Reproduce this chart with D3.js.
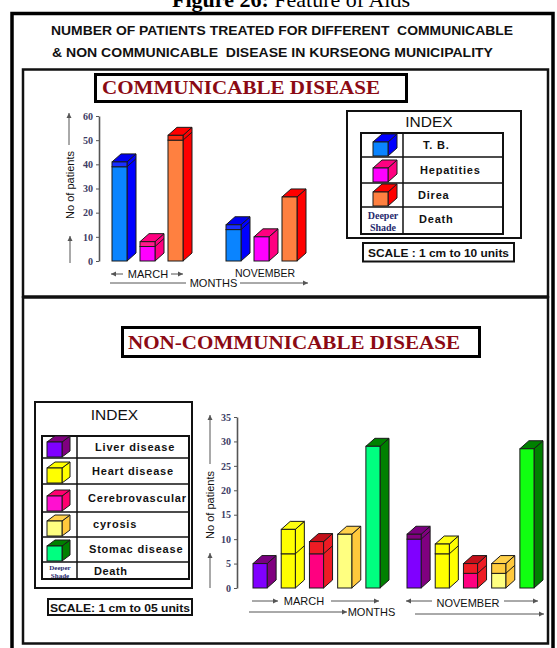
<!DOCTYPE html>
<html><head><meta charset="utf-8">
<script src="https://cdn.jsdelivr.net/npm/d3@7"></script>
<style>html,body{margin:0;padding:0;background:#fff;} svg{display:block;} text{white-space:pre;}</style>
</head><body><svg id="c" width="557" height="648"></svg>
<script>
// ---------- DATA ----------
const months = ["MARCH", "NOVEMBER"];

// Communicable disease (patients treated, and deaths = deeper shade)
const commSeries = ["T. B.", "Hepatities", "Direa"];
const tbPatients = [41, 15];
const tbDeaths = [2, 2];
const hepPatients = [8, 10];
const hepDeaths = [2, 0];
const direaPatients = [52, 26.5];
const direaDeaths = [2, 0];
const commTicks = [0, 10, 20, 30, 40, 50, 60];

// Non-communicable disease
const nonCommSeries = ["Liver disease", "Heart disease", "Cerebrovascular", "cyrosis", "Stomac disease"];
const liverPatients = [5, 11];
const liverDeaths = [0, 1];
const heartPatients = [12, 9];
const heartDeaths = [5, 2];
const cerebroPatients = [9.5, 5];
const cerebroDeaths = [2.5, 2];
const cyrosisPatients = [11, 5];
const cyrosisDeaths = [0, 2];
const stomacPatients = [29, 28.5];
const stomacDeaths = [0, 0];
const nonCommTicks = [0, 5, 10, 15, 20, 25, 30, 35];

const headerLine1 = "NUMBER OF PATIENTS TREATED FOR DIFFERENT  COMMUNICABLE";
const headerLine2 = "& NON COMMUNICABLE  DISEASE IN KURSEONG MUNICIPALITY";

// ---------- STYLES ----------
const commStyles = [
  {front: ["#0a84ff", "#0a84ff"], death: "#1a30ff", side: "#0000ff", top: "#0000f0"},
  {front: ["#ff00ff", "#ff00ff"], death: "#ff1a8c", side: "#ff0080", top: "#ff0080"},
  {front: ["#ff8040", "#ff8040"], death: "#ff2a10", side: "#ff0000", top: "#ff0000"}
];
const nonCommStyles = [
  {front: ["#8000ff", "#8000ff"], death: "#800080", side: "#800080", top: "#7a0080"},
  {front: ["#ffff00", "#ffff00"], death: "#ffff00", side: "#ffff00", top: "#ffff10"},
  {front: ["#ff0080", "#ff0080"], death: "#ee1c24", side: "#ee1c24", top: "#c4101a"},
  {front: ["#ffff80", "#ffff80"], death: "#ffcc40", side: "#ffc83c", top: "#ffd04a"},
  {front: ["#00ff80", "#10ff10"], death: "#008000", side: "#008000", top: "#008000"}
];
const commLegendStyles = [
  {front: "#0a84ff", side: "#0000ff", top: "#0000ff"},
  {front: "#ff00ff", side: "#ff0080", top: "#ff0080"},
  {front: "#ff8040", side: "#ff0000", top: "#ff0000"}
];
const nonCommLegendStyles = [
  {front: "#8000ff", side: "#800080", top: "#800080"},
  {front: "#ffff00", side: "#ffff00", top: "#ffff00"},
  {front: "#ff10d0", side: "#ff0070", top: "#ff0070"},
  {front: "#ffff80", side: "#ffc83c", top: "#ffd04a"},
  {front: "#00ff80", side: "#008000", top: "#008000"}
];

const SANS = "'Liberation Sans', Arial, sans-serif";
const SERIF = "'Liberation Serif', 'Times New Roman', serif";
const OUT = "#1a1a1a";

const svg = d3.select("#c");
svg.append("rect").attr("width", 557).attr("height", 648).attr("fill", "#fff");

// ---------- helpers ----------
function arrow(g, x1, y1, x2, y2, head = true) {
  g.append("line").attr("x1", x1).attr("y1", y1).attr("x2", x2).attr("y2", y2)
    .attr("stroke", "#555").attr("stroke-width", 1);
  if (!head) return;
  const a = Math.atan2(y2 - y1, x2 - x1), L = 5, Wd = 2.5;
  const p = [[x2, y2],
    [x2 - L * Math.cos(a) + Wd * Math.sin(a), y2 - L * Math.sin(a) - Wd * Math.cos(a)],
    [x2 - L * Math.cos(a) - Wd * Math.sin(a), y2 - L * Math.sin(a) + Wd * Math.cos(a)]];
  g.append("path").attr("d", d3.line()(p) + "Z").attr("fill", "#555");
}

function cube(g, x, yb, w, h, dx, dy, st) {
  const yt = yb - h;
  g.append("path").attr("d", d3.line()([[x + w, yt], [x + w + dx, yt - dy], [x + w + dx, yb - dy], [x + w, yb]]) + "Z")
    .attr("fill", st.side).attr("stroke", OUT).attr("stroke-width", 1);
  g.append("path").attr("d", d3.line()([[x, yt], [x + dx, yt - dy], [x + w + dx, yt - dy], [x + w, yt]]) + "Z")
    .attr("fill", st.top).attr("stroke", OUT).attr("stroke-width", 1);
  g.append("rect").attr("x", x).attr("y", yt).attr("width", w).attr("height", h)
    .attr("fill", st.front).attr("stroke", OUT).attr("stroke-width", 1);
}

function drawBars(g, series, patients, deaths, styles, x0, x1, y, dx, dy) {
  series.forEach((s, i) => {
    months.forEach((m, j) => {
      const xl = x0(m) + x1(s), w = x1.bandwidth();
      const total = patients[i][j], d = deaths[i][j];
      const yT = y(total), yA = y(total - d), yB = y(0);
      const st = styles[i];
      g.append("path").attr("d", d3.line()([[xl + w, yT], [xl + w + dx, yT - dy], [xl + w + dx, yB - dy], [xl + w, yB]]) + "Z")
        .attr("fill", st.side).attr("stroke", OUT).attr("stroke-width", 1);
      g.append("path").attr("d", d3.line()([[xl, yT], [xl + dx, yT - dy], [xl + w + dx, yT - dy], [xl + w, yT]]) + "Z")
        .attr("fill", st.top).attr("stroke", OUT).attr("stroke-width", 1);
      g.append("rect").attr("x", xl).attr("y", yA).attr("width", w).attr("height", yB - yA)
        .attr("fill", st.front[j]).attr("stroke", OUT).attr("stroke-width", 1);
      if (d > 0) {
        g.append("rect").attr("x", xl).attr("y", yT).attr("width", w).attr("height", yA - yT)
          .attr("fill", st.death).attr("stroke", OUT).attr("stroke-width", 1);
        g.append("line").attr("x1", xl + w).attr("y1", yA).attr("x2", xl + w + dx).attr("y2", yA - dy)
          .attr("stroke", OUT).attr("stroke-width", 1);
      }
    });
  });
}

function yAxis(g, y, ticks, x, fs) {
  const ax = g.append("g").attr("transform", `translate(${x},0)`)
    .call(d3.axisLeft(y).tickValues(ticks).tickSize(3).tickSizeOuter(0).tickPadding(3));
  ax.select(".domain").attr("stroke", "#555").attr("stroke-width", 1.6);
  ax.selectAll(".tick line").attr("stroke", "#555");
  ax.selectAll(".tick text").attr("font-family", SERIF).attr("font-weight", "bold")
    .attr("font-size", fs).attr("fill", "#3c3c64");
}

function label(g, txt, x, y, opts = {}) {
  const t = g.append("text").attr("x", x).attr("y", y).text(txt)
    .attr("font-family", opts.family || SANS).attr("font-size", opts.size || 11)
    .attr("font-weight", opts.weight || "normal").attr("fill", opts.fill || "#111")
    .attr("text-anchor", opts.anchor || "start");
  if (opts.len) t.attr("textLength", opts.len).attr("lengthAdjust", "spacingAndGlyphs");
  if (opts.ls) t.attr("letter-spacing", opts.ls);
  return t;
}

// ---------- frame & titles ----------
const ft = svg.append("text").attr("x", 291).attr("y", 7).attr("text-anchor", "middle")
  .attr("font-family", SERIF).attr("font-size", 22).attr("fill", "#000");
ft.append("tspan").attr("font-weight", "bold").text("Figure 26:");
ft.append("tspan").text(" Feature of Aids");

svg.append("rect").attr("x", 12).attr("y", 13.5).attr("width", 541).attr("height", 700)
  .attr("fill", "none").attr("stroke", "#000").attr("stroke-width", 3.5);

label(svg, headerLine1, 51, 35, {weight: "bold", size: 13, len: 462});
label(svg, headerLine2, 52, 57, {weight: "bold", size: 13, len: 441});

svg.append("rect").attr("x", 23).attr("y", 69.5).attr("width", 525).attr("height", 227)
  .attr("fill", "none").attr("stroke", "#111").attr("stroke-width", 2.5);
svg.append("rect").attr("x", 23).attr("y", 297.5).attr("width", 525).attr("height", 346)
  .attr("fill", "none").attr("stroke", "#111").attr("stroke-width", 2.5);

svg.append("rect").attr("x", 95.5).attr("y", 74.5).attr("width", 311).attr("height", 27)
  .attr("fill", "#fff").attr("stroke", "#000").attr("stroke-width", 3);
label(svg, "COMMUNICABLE DISEASE", 102, 94, {family: SERIF, weight: "bold", size: 19, fill: "#8b0a14", len: 278});

svg.append("rect").attr("x", 122.5).attr("y", 327.5).attr("width", 357).attr("height", 29)
  .attr("fill", "#fff").attr("stroke", "#000").attr("stroke-width", 3);
label(svg, "NON-COMMUNICABLE DISEASE", 128, 348.5, {family: SERIF, weight: "bold", size: 19, fill: "#8b0a14", len: 332});

// ---------- communicable chart ----------
const cg = svg.append("g");
const cy = d3.scaleLinear().domain([0, 60]).range([261, 116]);
const cx0 = d3.scaleBand().domain(months).range([112, 340]);
const cx1 = d3.scaleBand().domain(commSeries).range([0, 71]).paddingInner(0.464);
yAxis(cg, cy, commTicks, 99, 10);
drawBars(cg, commSeries, [tbPatients, hepPatients, direaPatients], [tbDeaths, hepDeaths, direaDeaths],
  commStyles, cx0, cx1, cy, 9, 8);

label(cg, "No of patients", 0, 0, {size: 11, anchor: "middle"})
  .attr("transform", "translate(74,185) rotate(-90)");
arrow(cg, 69, 145, 69, 113);
arrow(cg, 70, 263, 70, 236);

const cMid = m => cx0(m) + (cx1.range()[1] + 9) / 2;
label(cg, "MARCH", cMid("MARCH") - 4, 278, {anchor: "middle", size: 11});
arrow(cg, 123, 274, 111, 274);
arrow(cg, 171, 274, 183, 274);
label(cg, "NOVEMBER", cMid("NOVEMBER") - 1, 277, {anchor: "middle", size: 10.5});
arrow(cg, 110, 283, 186, 283, false);
label(cg, "MONTHS", 213.5, 287, {anchor: "middle", size: 11});
arrow(cg, 240, 283, 308, 283);

// communicable legend
const cl = svg.append("g");
cl.append("rect").attr("x", 347).attr("y", 111).attr("width", 174).attr("height", 127)
  .attr("fill", "#fff").attr("stroke", "#111").attr("stroke-width", 2);
label(cl, "INDEX", 429, 126.5, {anchor: "middle", size: 15.5});
const cRows = [133, 157, 183, 207, 234];
cl.append("rect").attr("x", 361).attr("y", 133).attr("width", 142).attr("height", 101)
  .attr("fill", "none").attr("stroke", "#111").attr("stroke-width", 2);
cRows.slice(1, -1).forEach(r => cl.append("line").attr("x1", 361).attr("x2", 503).attr("y1", r).attr("y2", r)
  .attr("stroke", "#111").attr("stroke-width", 1.5));
cl.append("line").attr("x1", 403).attr("x2", 403).attr("y1", 133).attr("y2", 234).attr("stroke", "#111").attr("stroke-width", 1.5);
const cLabX = [423, 420, 418];
commSeries.forEach((s, i) => {
  cube(cl, 373, cRows[i + 1] - 1, 15, 14, 9, 8, commLegendStyles[i]);
  label(cl, s, cLabX[i], cRows[i] + (cRows[i + 1] - cRows[i]) / 2 + 4, {weight: "bold", size: 11, ls: 0.8});
});
label(cl, "Death", 419, 223, {weight: "bold", size: 11, ls: 0.8});
label(cl, "Deeper", 383, 218.5, {family: SERIF, weight: "bold", size: 10, anchor: "middle", fill: "#1f2a6e"});
label(cl, "Shade", 383, 230.5, {family: SERIF, weight: "bold", size: 10, anchor: "middle", fill: "#1f2a6e"});
cl.append("rect").attr("x", 363).attr("y", 243).attr("width", 151).attr("height", 18.5)
  .attr("fill", "#fff").attr("stroke", "#111").attr("stroke-width", 2);
label(cl, "SCALE : 1 cm to 10 units", 368, 257, {weight: "bold", size: 11.5, len: 141});

// ---------- non-communicable chart ----------
const ng = svg.append("g");
const ny = d3.scaleLinear().domain([0, 35]).range([588, 417]);
const nx0 = d3.scaleBand().domain(months).range([253, 561]);
const nx1 = d3.scaleBand().domain(nonCommSeries).range([0, 127]).paddingInner(0.5);
yAxis(ng, ny, nonCommTicks, 237, 10);
drawBars(ng, nonCommSeries,
  [liverPatients, heartPatients, cerebroPatients, cyrosisPatients, stomacPatients],
  [liverDeaths, heartDeaths, cerebroDeaths, cyrosisDeaths, stomacDeaths],
  nonCommStyles, nx0, nx1, ny, 9, 8);

label(ng, "No of patients", 0, 0, {size: 11, anchor: "middle"})
  .attr("transform", "translate(214,505) rotate(-90)");
arrow(ng, 210, 464, 210, 415);
arrow(ng, 210, 588, 210, 553);

label(ng, "MARCH", 304, 605, {anchor: "middle", size: 11});
arrow(ng, 252, 601, 278, 601);
arrow(ng, 331, 601, 379, 601);
label(ng, "NOVEMBER", 468, 607, {anchor: "middle", size: 11});
arrow(ng, 432, 601, 406, 601);
arrow(ng, 504, 601, 538, 601);
label(ng, "MONTHS", 371.5, 616, {anchor: "middle", size: 11});
arrow(ng, 249, 612, 347, 612);
arrow(ng, 415, 614, 544, 614);

// non-communicable legend
const nl = svg.append("g");
nl.append("rect").attr("x", 35).attr("y", 402).attr("width", 157).attr("height", 186)
  .attr("fill", "#fff").attr("stroke", "#111").attr("stroke-width", 2);
label(nl, "INDEX", 114.5, 420, {anchor: "middle", size: 15.5});
const nRows = [436, 458, 484, 512, 537, 562, 579];
nl.append("rect").attr("x", 42).attr("y", 436).attr("width", 147).attr("height", 143)
  .attr("fill", "none").attr("stroke", "#111").attr("stroke-width", 2);
nRows.slice(1, -1).forEach(r => nl.append("line").attr("x1", 42).attr("x2", 189).attr("y1", r).attr("y2", r)
  .attr("stroke", "#111").attr("stroke-width", 1.5));
nl.append("line").attr("x1", 77).attr("x2", 77).attr("y1", 436).attr("y2", 579).attr("stroke", "#111").attr("stroke-width", 1.5);
const nLabX = [95, 92, 88, 93, 89];
const nLabY = [451, 475, 502, 528, 553];
nonCommSeries.forEach((s, i) => {
  cube(nl, 47, nRows[i + 1] - 1, 15, 15, 8, 6, nonCommLegendStyles[i]);
  label(nl, s, nLabX[i], nLabY[i], {weight: "bold", size: 11, ls: 0.8});
});
label(nl, "Death", 94, 575, {weight: "bold", size: 11, ls: 0.6});
label(nl, "Deeper", 60, 569.5, {family: SERIF, weight: "bold", size: 7, anchor: "middle", fill: "#1f2a6e"});
label(nl, "Shade", 60, 577.5, {family: SERIF, weight: "bold", size: 7, anchor: "middle", fill: "#1f2a6e"});
nl.append("rect").attr("x", 48).attr("y", 599).attr("width", 144).attr("height", 16)
  .attr("fill", "#fff").attr("stroke", "#111").attr("stroke-width", 2);
label(nl, "SCALE: 1 cm to 05 units", 50, 611.5, {weight: "bold", size: 11.5, len: 140});
</script></body></html>
